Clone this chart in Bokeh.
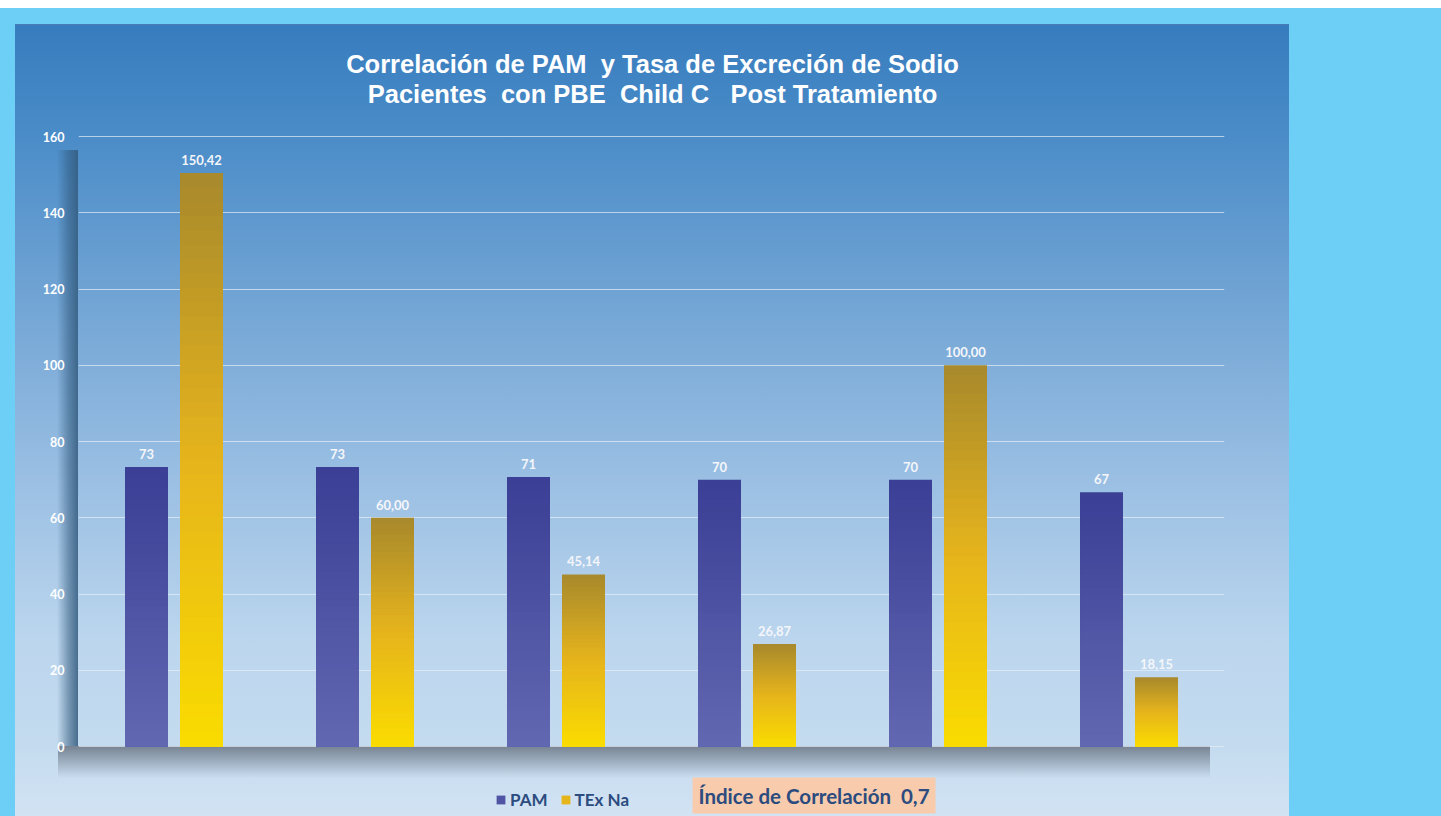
from bokeh.plotting import figure
from bokeh.models import (ColumnDataSource, FactorRange, Legend, LegendItem, Label,
                          FixedTicker, LabelSet)
from bokeh.core.properties import value
from bokeh.transform import dodge
from bokeh.embed import file_html
from bokeh.resources import INLINE

# ---- data ----
categories = ["P1", "P2", "P3", "P4", "P5", "P6"]
pam = [73.33, 73.33, 70.67, 70.0, 70.0, 66.67]
tex_na = [150.42, 60.00, 45.14, 26.87, 100.00, 18.15]
y_ticks = [0, 20, 40, 60, 80, 100, 120, 140, 160]
NB = "\u00a0"
title_line1 = "Correlación de PAM " + NB + "y Tasa de Excreción de Sodio"
title_line2 = "Pacientes " + NB + "con PBE " + NB + "Child C " + NB + NB + "Post Tratamiento"
correlation_text = "Índice de Correlación " + NB + "0,7"


def hex2rgb(h):
    h = h.lstrip("#")
    return tuple(int(h[i:i + 2], 16) for i in (0, 2, 4))


def lerp(stops, t):
    for (p0, c0), (p1, c1) in zip(stops[:-1], stops[1:]):
        if p0 <= t <= p1:
            f = (t - p0) / (p1 - p0) if p1 > p0 else 0
            a, b = hex2rgb(c0), hex2rgb(c1)
            return "#%02x%02x%02x" % tuple(int(round(a[i] + (b[i] - a[i]) * f)) for i in range(3))
    return stops[-1][1]


N = 40
pam_stops = [(0.0, "#6268b2"), (1.0, "#3b3e95")]          # bottom -> top
gold_stops = [(0.0, "#fadc00"), (0.5, "#e6b41c"), (1.0, "#a7892c")]


def segments(values, stops):
    # overlapping rects from 0 up to a fraction of the value: tallest (top colour) first
    xs, bots, tops, cols = [], [], [], []
    for c, v in zip(categories, values):
        for i in range(N, 0, -1):
            xs.append(c)
            bots.append(0)
            tops.append(v * i / N)
            cols.append(lerp(stops, (i - 0.5) / N))
    return ColumnDataSource(dict(cat=xs, bottom=bots, top=tops, color=cols))


pam_src = segments(pam, pam_stops)
tex_src = segments(tex_na, gold_stops)

lab_src = ColumnDataSource(dict(
    cat=categories,
    pam=pam,
    tex=tex_na,
    pam_lab=[str(int(round(v))) for v in pam],
    tex_lab=[("%.2f" % v).replace(".", ",") for v in tex_na],
))

# frame spans the whole panel height; 0 sits at y=746 px and 160 at y=136 px
p = figure(width=1441, height=816, x_range=FactorRange(*categories),
           y_range=(-18.36, 189.38), output_backend="svg", toolbar_location=None,
           min_border_left=78, min_border_right=217, min_border_top=24,
           min_border_bottom=0)

p.background_fill_color = None
p.border_fill_color = None
p.outline_line_color = None

p.styles = {
    "background": (
        "linear-gradient(#ffffff, #ffffff) 0px 0px / 100% 8px no-repeat, "
        "linear-gradient(to right, rgba(40,80,115,0) 0%, rgba(45,85,120,0.5) 55%, rgba(50,90,125,0.85) 100%) 57px 150px / 21px 596px no-repeat, "
        "linear-gradient(to bottom, rgba(105,115,130,0.85) 0%, rgba(110,122,138,0.5) 45%, rgba(120,135,150,0) 100%) 58px 746px / 1152px 32px no-repeat, "
        "linear-gradient(to bottom, #4a7cb8 0px, #4a7cb8 1px, #377cbe 1px, #4a8cc8 110px, #6ea2d3 260px, #97bde2 440px, #bcd6ee 620px, #c4dbef 722px, #d2e3f3 792px) 15px 24px / 1274px 792px no-repeat, "
        "#6dcff6"
    )
}

r_pam = p.vbar(x=dodge("cat", -0.144, range=p.x_range), bottom="bottom", top="top",
               width=0.225, source=pam_src, fill_color="color", line_color=None)
r_tex = p.vbar(x=dodge("cat", 0.144, range=p.x_range), bottom="bottom", top="top",
               width=0.225, source=tex_src, fill_color="color", line_color=None)

lab_style = dict(text_color="#f4f6fa", text_font=value("Lato"), text_font_style="bold",
                 text_font_size="13px", text_align="center", text_baseline="bottom",
                 y_offset=8)
p.add_layout(LabelSet(x=dodge("cat", -0.144, range=p.x_range), y="pam", text="pam_lab",
                      source=lab_src, **lab_style))
p.add_layout(LabelSet(x=dodge("cat", 0.144, range=p.x_range), y="tex", text="tex_lab",
                      source=lab_src, **lab_style))

# axes & grid
p.xaxis.visible = False
p.xgrid.visible = False
p.yaxis.ticker = FixedTicker(ticks=y_ticks)
p.yaxis.axis_line_color = None
p.yaxis.major_tick_line_color = None
p.yaxis.minor_tick_line_color = None
p.yaxis.major_label_text_color = "#ffffff"
p.yaxis.major_label_text_font = "Lato"
p.yaxis.major_label_text_font_style = "bold"
p.yaxis.major_label_text_font_size = "12.5px"
p.yaxis.major_label_standoff = 8
p.ygrid.grid_line_color = "#e6eef6"
p.ygrid.grid_line_alpha = 0.7
p.ygrid.grid_line_width = 1.2

# two-line centred title (screen units measured from the frame's bottom-left)
title_style = dict(x_units="screen", y_units="screen", text_align="center",
                   text_baseline="middle", text_color="#ffffff",
                   text_font="Liberation Sans", text_font_style="bold",
                   text_font_size="25.5px")
p.add_layout(Label(x=574, y=753, text=title_line1, **title_style))
p.add_layout(Label(x=574, y=723, text=title_line2, **title_style))

# legend
legend = Legend(items=[LegendItem(label="PAM", renderers=[r_pam], index=N // 2),
                       LegendItem(label="TEx Na", renderers=[r_tex], index=N // 2)],
                orientation="horizontal", location=(417, 6))
legend.background_fill_alpha = 0
legend.border_line_color = None
legend.label_text_color = "#2c4b7e"
legend.label_text_font = "Lato"
legend.label_text_font_style = "bold"
legend.label_text_font_size = "17px"
legend.glyph_width = 11
legend.glyph_height = 11
legend.label_standoff = 4
legend.spacing = 12
legend.padding = 0
legend.margin = 0
p.add_layout(legend)

corr = Label(x=614, y=21, x_units="screen", y_units="screen", text=correlation_text,
             text_color="#2c4b7e", text_font="Lato", text_font_style="bold",
             text_font_size="20.5px", text_baseline="middle", text_align="left",
             background_fill_color="#f8cbad", padding=6)
p.add_layout(corr)

open("out.html", "w").write(file_html(p, INLINE))
